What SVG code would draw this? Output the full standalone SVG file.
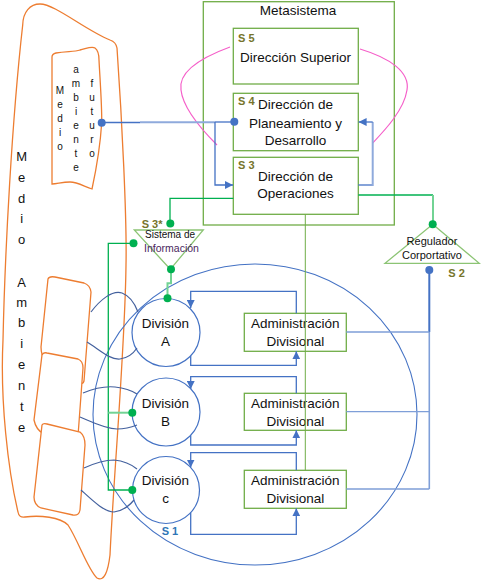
<svg xmlns="http://www.w3.org/2000/svg" width="481" height="580" viewBox="0 0 481 580">
<defs>
<style>
.t{font-family:"Liberation Sans",Arial,sans-serif;font-size:13.5px;fill:#111;text-anchor:middle}
.sm{font-family:"Liberation Sans",Arial,sans-serif;font-size:10px;fill:#111;text-anchor:middle}
.big{font-family:"Liberation Sans",Arial,sans-serif;font-size:13px;fill:#111;text-anchor:middle}
.s{font-family:"Liberation Sans",Arial,sans-serif;font-size:11px;font-weight:bold;fill:#76742B}
.org{fill:#fff;stroke:#ED7D31;stroke-width:1.3}
.orgn{fill:none;stroke:#ED7D31;stroke-width:1.3}
.box{fill:#fff;stroke:#70AD47;stroke-width:1.3}
.tri{fill:#fff;stroke:#8CC474;stroke-width:1.3}
.bl{fill:none;stroke:#4472C4;stroke-width:1.3}
.bll{fill:none;stroke:#8FAADC;stroke-width:2}
.lens{fill:none;stroke:#44619E;stroke-width:1.2}
.gr{fill:none;stroke:#00B050;stroke-width:1.3}
.grl{fill:none;stroke:#72D394;stroke-width:2}
.gd{fill:#00B050}
.bd{fill:#4472C4}
.pk{fill:none;stroke:#F55FC9;stroke-width:1.2}
</style>
<marker id="ab" viewBox="0 0 10 10" refX="10" refY="5" markerWidth="8" markerHeight="8" markerUnits="userSpaceOnUse" orient="auto">
<path d="M0,0 L10,5 L0,10 Z" fill="#4472C4"/>
</marker>
</defs>

<g id="medio-ambiente">
<path class="org" d="M22.7,25 C23,12 30,4 40,4 C55,4 85,30 110,40 Q116,42 117,48 C122,120 127,220 126,265 C125,350 114,470 110,555 C108,572 104,582 97,578 C88,570 78,540 68,525 C60,517 40,515 25,517 Q19,518 18,512 C8,470 0,400 3,340 C5,250 12,120 22.7,25 Z"/>
<text class="big"><tspan x="21.7" y="160.7">M</tspan><tspan x="21.7" y="181.7">e</tspan><tspan x="21.7" y="202.7">d</tspan><tspan x="21.7" y="223.3">i</tspan><tspan x="21.7" y="244.3">o</tspan><tspan x="21.7" y="286.7">A</tspan><tspan x="21.7" y="306.7">m</tspan><tspan x="21.7" y="327.3">b</tspan><tspan x="21.7" y="348.3">i</tspan><tspan x="21.7" y="369.3">e</tspan><tspan x="21.7" y="390">n</tspan><tspan x="21.7" y="410.7">t</tspan><tspan x="21.7" y="432.3">e</tspan></text>
</g>

<g id="medio-ambiente-futuro">
<path class="org" d="M52,57 Q52,54 56,53 C66,51 74,52 80,50 C88,48 92,46 95,48 Q99,51 99,60 C100,80 102,105 101.7,122.7 C100,150 95,175 92,189 C85,187 78,182 70,182 C62,182 57,184 52,184 Z"/>
<text class="sm"><tspan x="60" y="94">M</tspan><tspan x="60" y="108.3">e</tspan><tspan x="60" y="121.7">d</tspan><tspan x="60" y="136">i</tspan><tspan x="60" y="150">o</tspan></text>
<text class="sm"><tspan x="76" y="73.3">a</tspan><tspan x="76" y="87.3">m</tspan><tspan x="76" y="101">b</tspan><tspan x="76" y="115">i</tspan><tspan x="76" y="128.7">e</tspan><tspan x="76" y="142.7">n</tspan><tspan x="76" y="156.7">t</tspan><tspan x="76" y="170.7">e</tspan></text>
<text class="sm"><tspan x="92" y="87.3">f</tspan><tspan x="92" y="101">u</tspan><tspan x="92" y="115">t</tspan><tspan x="92" y="128.7">u</tspan><tspan x="92" y="142.7">r</tspan><tspan x="92" y="156.7">o</tspan></text>
</g>

<g id="segmentos-ambiente">
<path class="org" d="M48,279 Q49,276 55,277 L84,283 Q90,285 91,292 L84,381 Q83,385 78,383 Q65,377 46,362 Q41,356 41,347 Z"/>
<path class="org" d="M42,355 Q43,352 47,353 L78,359 Q83,361 83,368 L78,436 Q76,443 70,442 Q55,438 44,434 Q36,430 34,420 Z"/>
<path class="org" d="M42,425 Q43,423 47,424 L80,432 Q85,436 85,445 L80,510 Q79,516 73,515 L41,508 Q34,505 34,497 Z"/>
</g>

<g id="s1-ellipse">
<ellipse cx="255" cy="414.5" rx="162" ry="150.5" fill="none" stroke="#4472C4" stroke-width="1.1"/>
<text class="s" x="161.7" y="535" style="fill:#2E75B6">S 1</text>
</g>

<g id="metasistema">
<rect class="box" x="203.3" y="1.7" width="191" height="223.3" fill="none"/>
<text class="t" x="298" y="15">Metasistema</text>
</g>

<g id="s5">
<rect class="box" x="233.3" y="28.3" width="125" height="55.7"/>
<text class="s" x="238" y="41.7">S 5</text>
<text class="t" x="295.5" y="61.7">Dirección Superior</text>
</g>

<g id="s4">
<rect class="box" x="233.3" y="93.3" width="125" height="57.4"/>
<text class="s" x="238" y="105">S 4</text>
<text class="t" x="295.5" y="109">Dirección de</text>
<text class="t" x="295.5" y="127.7">Planeamiento y</text>
<text class="t" x="295.5" y="145">Desarrollo</text>
</g>

<g id="s3">
<rect class="box" x="233.3" y="157.3" width="125" height="57"/>
<text class="s" x="238" y="169.3">S 3</text>
<text class="t" x="295.5" y="180.7">Dirección de</text>
<text class="t" x="295.5" y="198.3">Operaciones</text>
</g>

<g id="s3-star">
<path class="tri" d="M134.3,230 L203.3,230 L170.3,269.3 Z"/>
<text class="s" x="141.7" y="227.7">S 3*</text>
<text class="sm" x="170" y="238">Sistema de</text>
<text class="sm" x="171.5" y="251.7" style="font-size:10.5px;fill:#4B1F5E">Información</text>
</g>

<g id="s2">
<path class="tri" d="M432.7,224.3 L479.3,263.3 L385,263.3 Z"/>
<text class="sm" x="432" y="245" style="font-size:11px">Regulador</text>
<text class="sm" x="432" y="259.3" style="font-size:11px">Corportativo</text>
<text class="s" x="448.3" y="276.7">S 2</text>
</g>

<g id="divisiones">
<g id="division-a">
<circle cx="166" cy="332.5" r="34" fill="none" stroke="#4472C4" stroke-width="1.2"/>
<text class="t" x="165.5" y="328.3">División</text>
<text class="t" x="165.5" y="346">A</text>
</g>
<g id="division-b">
<circle cx="166" cy="412" r="34" fill="none" stroke="#4472C4" stroke-width="1.2"/>
<text class="t" x="165.5" y="408.3">División</text>
<text class="t" x="165.5" y="426">B</text>
</g>
<g id="division-c">
<circle cx="166" cy="490" r="33.5" fill="none" stroke="#4472C4" stroke-width="1.2"/>
<text class="t" x="165.5" y="485">División</text>
<text class="t" x="165.5" y="502.7">c</text>
</g>
</g>

<g id="administraciones">
<g id="admin-a">
<rect class="box" x="244.3" y="313.3" width="102" height="38"/>
<text class="t" x="295.3" y="328.3">Administración</text>
<text class="t" x="295.3" y="346">Divisional</text>
</g>
<g id="admin-b">
<rect class="box" x="244.3" y="393.3" width="102" height="37"/>
<text class="t" x="295.3" y="408.3">Administración</text>
<text class="t" x="295.3" y="426">Divisional</text>
</g>
<g id="admin-c">
<rect class="box" x="244.3" y="470.3" width="102" height="38"/>
<text class="t" x="295.3" y="485">Administración</text>
<text class="t" x="295.3" y="502.7">Divisional</text>
</g>
</g>

<g id="connectors">
<path class="pk" d="M230,47 C200,58 178,72 181,90 C183,108 202,130 217,145"/>
<path class="pk" d="M360,49 C390,58 410,72 407,90 C404,110 385,130 372.7,143"/>

<path class="bl" d="M101.7,122.5 H140"/>
<path class="bll" d="M140,122.3 H215"/>
<path class="bl" d="M215,122 H234.3"/>
<path class="bl" d="M215,122 V185 H233" marker-end="url(#ab)"/>
<path class="bl" d="M358.3,185 H372.7"/>
<path class="bll" d="M372.7,186 V122"/>
<path class="bl" d="M372.7,122 H358.6" marker-end="url(#ab)"/>

<path class="gr" d="M233.3,198.3 H170 V223.5"/>
<path class="gr" d="M358.3,195 H433"/>
<path class="grl" d="M433,195 V224"/>
<path class="gr" d="M133.3,243.3 H108.3 V490 H132.3"/>
<path class="grl" d="M108.3,412.7 H132.3"/>
<path class="grl" d="M171,269.3 V283.3 H167.5 V298.3"/>
<path d="M305.3,214.3 V470.3" fill="none" stroke="#70AD47" stroke-width="1"/>

<path class="lens" d="M91,312 C100,300 112,290 122,293 C130,296 135,304 138,312"/>
<path class="lens" d="M87,342 C100,350 110,360 120,359 C128,358 133,354 137,348"/>
<path class="lens" d="M83,393 C95,388 105,386 115,387 C125,388 131,390 137,394"/>
<path class="lens" d="M80,417 C92,422 105,429 117,429 C127,429 132,427 137,425"/>
<path class="lens" d="M84,468 C95,463 105,460 114,460 C124,461 131,464 137,469"/>
<path class="lens" d="M81,490 C92,500 104,512 114,512 C123,511 129,506 134,500"/>

<path class="bl" d="M296.3,313.3 V291.3 H190.7 V308" marker-end="url(#ab)"/>
<path class="bl" d="M190.7,356 V365.3 H296.3 V351.3" marker-end="url(#ab)"/>
<path class="bl" d="M296.3,393.3 V376.7 H190.7 V389" marker-end="url(#ab)"/>
<path class="bl" d="M190.7,435.4 V445 H296.3 V430.3" marker-end="url(#ab)"/>
<path class="bl" d="M296.3,470.3 V452.7 H190.7 V467.5" marker-end="url(#ab)"/>
<path class="bl" d="M190.7,512.6 V534.3 H296.3 V508.3" marker-end="url(#ab)"/>

<path d="M429.3,270 V332" fill="none" stroke="#4472C4" stroke-width="2"/>
<path d="M429.3,332 V489" fill="none" stroke="#7F9FD8" stroke-width="1.6"/>
<path d="M346.3,332 H429.3 M346.3,411.7 H429.3 M346.3,489 H429.3" fill="none" stroke="#7F9FD8" stroke-width="1.3"/>

<circle class="bd" cx="101.7" cy="122.7" r="4"/>
<circle class="bd" cx="234.3" cy="121.7" r="4"/>
<circle class="bd" cx="429.3" cy="270" r="4"/>
<circle class="gd" cx="170.3" cy="223.5" r="4"/>
<circle class="gd" cx="133.5" cy="243.3" r="4"/>
<circle class="gd" cx="171" cy="269.3" r="4"/>
<circle class="gd" cx="167.5" cy="298.3" r="4"/>
<circle class="gd" cx="132.3" cy="412.7" r="4"/>
<circle class="gd" cx="132.3" cy="490" r="4"/>
<circle class="gd" cx="432.7" cy="224.3" r="4"/>
</g>
</svg>
